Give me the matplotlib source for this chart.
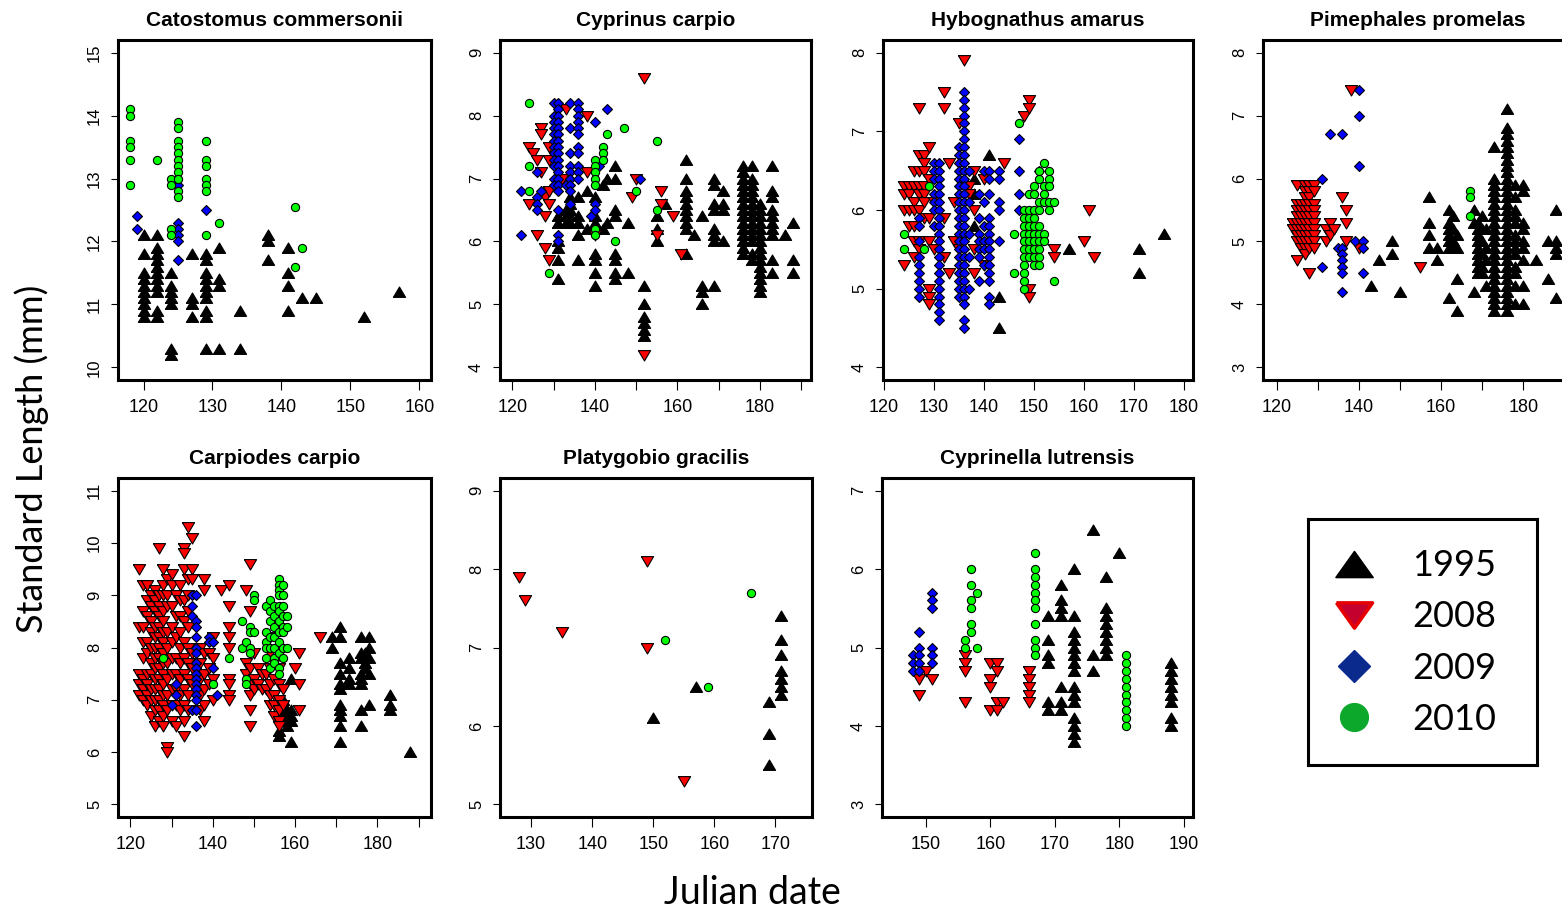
import matplotlib
matplotlib.use('Agg')
import matplotlib.pyplot as plt
from matplotlib.lines import Line2D
from matplotlib.path import Path

# ---- data: {julian day: [standard lengths]} per species and year ----
cat_1995 = {120: [12.1, 11.8, 11.5, 11.4, 11.3, 11.2, 11.1, 11.0, 10.9, 10.8],
            122: [12.1, 11.9, 11.8, 11.7, 11.6, 11.5, 11.4, 11.3, 11.2, 10.9, 10.8],
            124: [11.5, 11.3, 11.2, 11.1, 11.0, 10.3, 10.2],
            127: [11.8, 11.1, 11.0, 10.8],
            129: [11.8, 11.7, 11.5, 11.4, 11.3, 11.2, 11.1, 10.9, 10.8, 10.3],
            131: [11.9, 11.4, 11.3, 10.3],
            134: [10.9, 10.3],
            138: [12.1, 12.0, 11.7],
            141: [11.9, 11.5, 11.3, 10.9],
            143: [11.1], 145: [11.1], 152: [10.8], 157: [11.2]}
cat_2008 = {}
cat_2009 = {119: [12.4, 12.2], 125: [12.9, 12.3, 12.2, 12.1, 12.0, 11.7], 129: [12.5]}
cat_2010 = {118: [14.1, 14.0, 13.6, 13.5, 13.3, 12.9], 122: [13.3],
            124: [13.0, 12.9, 12.2, 12.1],
            125: [13.9, 13.8, 13.6, 13.5, 13.4, 13.3, 13.2, 13.1, 13.0, 12.8, 12.7],
            129: [13.6, 13.3, 13.2, 13.0, 12.9, 12.8, 12.1],
            131: [12.3], 142: [12.55, 11.6], 143: [11.9]}

cyp_1995 = {131: [6.4, 6.3, 6.0, 5.9, 5.7, 5.4], 133: [6.5, 6.4, 6.3],
            134: [6.7, 6.6, 6.5, 6.4, 6.3], 136: [6.7, 6.4, 6.3, 6.1, 5.7],
            138: [6.8, 6.2], 140: [6.7, 6.4, 6.3, 6.2, 5.8, 5.7, 5.5, 5.3],
            142: [6.9, 6.2], 143: [7.0, 6.3],
            145: [7.2, 7.0, 6.5, 6.4, 5.8, 5.7, 5.5, 5.4], 148: [6.3, 5.5],
            152: [5.3, 5.0, 4.8, 4.7, 4.6, 4.5], 155: [6.4, 6.2, 6.0], 157: [6.6],
            162: [7.3, 7.0, 6.8, 6.7, 6.6, 6.5, 6.4, 6.3, 6.2, 5.8], 164: [6.1],
            166: [6.4, 5.3, 5.2, 5.0],
            169: [7.0, 6.9, 6.6, 6.5, 6.2, 6.1, 6.0, 5.3], 171: [6.8, 6.6, 6.5, 6.0],
            176: [7.2, 7.1, 7.0, 6.9, 6.8, 6.7, 6.6, 6.5, 6.4, 6.3, 6.2, 6.1, 6.0, 5.9, 5.8],
            178: [7.2, 7.0, 6.9, 6.8, 6.7, 6.6, 6.5, 6.4, 6.3, 6.2, 6.1, 6.0, 5.8, 5.7],
            180: [6.6, 6.5, 6.4, 6.3, 6.2, 6.1, 6.0, 5.9, 5.8, 5.7, 5.6, 5.5, 5.4, 5.3, 5.2],
            183: [7.2, 6.8, 6.7, 6.5, 6.4, 6.3, 6.2, 6.1, 5.7, 5.5],
            186: [6.1], 188: [6.3, 5.7, 5.5]}
cyp_2008 = {124: [7.5, 6.6], 125: [7.4], 126: [7.3, 6.1], 127: [7.8, 7.7, 7.1],
            128: [6.7, 6.4, 5.9], 129: [7.5, 7.3, 6.8, 6.6, 5.7], 132: [7.0], 133: [8.1],
            138: [8.0, 7.1], 140: [6.1], 149: [6.7], 150: [7.0], 152: [8.6, 4.2],
            155: [6.1], 156: [6.8, 6.6], 159: [6.4], 161: [5.8]}
cyp_2009 = {122: [6.8, 6.1], 126: [7.1, 6.7, 6.6, 6.5], 127: [6.8],
            130: [8.2, 8.0, 7.9, 7.8, 7.7, 7.6, 7.5, 7.4, 7.3, 7.2, 7.0, 6.9],
            131: [8.2, 8.1, 8.0, 7.9, 7.8, 7.7, 7.6, 7.5, 7.4, 7.3, 7.2, 7.1, 7.0, 6.9,
                  6.8, 6.5, 6.1, 6.0],
            133: [6.9], 134: [8.2, 7.8, 7.4, 7.2, 7.1, 7.0, 6.9, 6.8, 6.6],
            136: [8.2, 8.1, 8.0, 7.9, 7.8, 7.7, 7.5, 7.4, 7.2, 7.1, 7.0],
            139: [6.4], 140: [7.9, 6.6, 6.5], 141: [7.2], 143: [8.1], 151: [7.0]}
cyp_2010 = {124: [8.2, 7.2, 6.8], 129: [5.5], 140: [7.3, 7.2, 7.1, 7.0, 6.9, 6.2, 6.1],
            142: [7.5, 7.4, 7.3], 143: [7.7], 145: [6.0], 147: [7.8], 150: [6.8],
            155: [7.6, 6.5]}

hyb_1995 = {138: [6.4, 6.2, 5.8], 141: [6.7], 143: [4.9, 4.5], 157: [5.5],
            171: [5.5, 5.2], 176: [5.7]}
hyb_2008 = {124: [6.3, 6.2, 6.0, 5.3], 125: [6.3, 6.2, 6.0, 5.8],
            126: [6.5, 6.3, 6.1, 6.0, 5.8, 5.6, 5.4],
            127: [7.3, 6.7, 6.5, 6.3, 6.2, 6.0, 5.6, 5.5],
            128: [6.7, 6.6, 6.5, 6.3, 6.2, 6.1, 5.9],
            129: [6.8, 6.4, 5.9, 5.6, 5.0, 4.9, 4.8], 130: [6.1, 5.5],
            132: [7.5, 7.3, 5.9, 5.4], 133: [6.6, 5.2], 134: [6.1, 5.6], 135: [7.1, 5.5],
            136: [7.9], 137: [6.3, 6.2], 138: [6.5, 6.0, 5.5, 5.2], 140: [6.4, 5.3],
            144: [6.6], 148: [7.2], 149: [7.4, 7.3, 5.0, 4.9], 154: [5.5, 5.4],
            160: [5.6], 161: [6.0], 162: [5.4]}
hyb_2009 = {127: [5.9, 5.8, 5.6, 5.4, 5.3, 5.2, 5.1, 5.0, 4.9],
            130: [6.6, 6.5, 6.4, 6.2, 6.1, 6.0, 5.8],
            131: [6.6, 6.5, 6.4, 6.3, 6.2, 6.1, 6.0, 5.9, 5.8, 5.7, 5.6, 5.5, 5.4, 5.3,
                  5.2, 5.1, 5.0, 4.9, 4.8, 4.7, 4.6],
            135: [6.8, 6.7, 6.6, 6.5, 6.4, 6.3, 6.2, 6.1, 6.0, 5.9, 5.8, 5.7, 5.6, 5.5,
                  5.4, 5.3, 5.2, 5.1, 5.0, 4.9],
            136: [7.5, 7.4, 7.3, 7.2, 7.1, 7.0, 6.9, 6.8, 6.7, 6.6, 6.5, 6.4, 6.3, 6.2,
                  6.1, 6.0, 5.9, 5.8, 5.7, 5.6, 5.5, 5.4, 5.3, 5.2, 5.1, 5.0, 4.9, 4.8,
                  4.6, 4.5],
            137: [6.5, 6.1, 5.7, 5.4, 5.0], 139: [6.2, 5.9, 5.7, 5.6, 5.5, 5.4, 5.1],
            140: [6.5, 6.1, 5.8, 5.6, 5.5, 5.3],
            141: [6.5, 6.4, 6.2, 5.9, 5.8, 5.7, 5.6, 5.5, 5.4, 5.3, 5.2, 5.1, 4.9, 4.8],
            143: [6.5, 6.4, 6.1, 6.0, 5.6], 147: [6.9, 6.5, 6.2, 6.0], 151: [6.5]}
hyb_2010 = {124: [5.7, 5.5], 128: [5.5], 129: [6.3], 146: [5.7, 5.2], 147: [7.1],
            148: [6.0, 5.9, 5.8, 5.7, 5.6, 5.5, 5.4, 5.3, 5.2, 5.1, 5.0],
            149: [6.2, 6.0, 5.9, 5.8, 5.7, 5.6, 5.5, 5.4],
            150: [6.3, 6.2, 6.0, 5.9, 5.8, 5.7, 5.6, 5.5, 5.4, 5.3],
            151: [6.5, 6.4, 6.1, 6.0, 5.8, 5.7, 5.6, 5.5, 5.4, 5.3],
            152: [6.6, 6.3, 6.2, 6.1, 5.7, 5.6], 153: [6.5, 6.4, 6.3, 6.1, 6.0],
            154: [6.1, 5.1]}

pim_1995 = {143: [4.3], 145: [4.7], 148: [5.0, 4.8], 150: [4.2],
            157: [5.7, 5.3, 5.1, 4.9], 159: [4.9, 4.7],
            162: [5.5, 5.3, 5.2, 5.1, 5.0, 4.9, 4.1], 163: [5.4, 5.2, 5.0, 4.9],
            164: [5.1, 4.9, 4.4, 3.9], 168: [5.5, 5.3, 4.2],
            169: [5.3, 5.2, 5.1, 5.0, 4.9, 4.8, 4.7, 4.6, 4.5],
            170: [5.4, 5.2, 5.0, 4.8, 4.6, 4.5], 171: [5.2, 4.9, 4.7, 4.3],
            173: [6.5, 6.0, 5.9, 5.8, 5.7, 5.6, 5.5, 5.4, 5.3, 5.2, 5.1, 5.0, 4.9, 4.8,
                  4.7, 4.6, 4.5, 4.4, 4.3, 4.2, 4.1, 4.0, 3.9],
            176: [7.1, 6.8, 6.7, 6.6, 6.5, 6.4, 6.3, 6.2, 6.1, 6.0, 5.9, 5.8, 5.7, 5.6,
                  5.5, 5.4, 5.3, 5.2, 5.1, 5.0, 4.9, 4.8, 4.7, 4.6, 4.5, 4.4, 4.3, 4.2,
                  4.1, 4.0, 3.9],
            178: [5.9, 5.7, 5.5, 5.4, 5.3, 5.1, 5.0, 4.9, 4.8, 4.6, 4.5, 4.3, 4.0],
            180: [5.9, 5.8, 5.3, 5.2, 5.0, 4.9, 4.7, 4.3, 4.0],
            183: [4.7], 186: [5.0, 4.4], 188: [5.5, 5.0, 4.9, 4.8, 4.1]}
pim_2008 = {124: [5.3, 5.2], 125: [5.9, 5.6, 5.5, 5.4, 5.3, 5.2, 5.1, 5.0, 4.7],
            126: [5.6, 5.5, 5.4, 5.3, 5.2, 5.1, 5.0, 4.9],
            127: [5.9, 5.8, 5.7, 5.6, 5.5, 5.4, 5.3, 5.2, 5.1, 5.0, 4.9, 4.8],
            128: [5.9, 5.8, 5.7, 5.6, 5.5, 5.4, 5.3, 5.2, 5.1, 5.0, 4.9, 4.5],
            129: [5.9, 5.8, 5.6, 5.5, 5.4, 5.3, 5.2, 5.1, 5.0, 4.9],
            132: [5.2, 5.0], 133: [5.3, 5.1], 134: [5.2], 136: [5.7],
            137: [5.5, 5.3, 5.0], 138: [7.4], 140: [4.9], 155: [4.6]}
pim_2009 = {131: [6.0, 4.6], 133: [6.7], 135: [4.9],
            136: [6.7, 4.9, 4.8, 4.7, 4.6, 4.5, 4.2], 139: [5.0], 140: [7.4, 7.0, 6.2],
            141: [5.0, 4.9, 4.5]}
pim_2010 = {167: [5.8, 5.7, 5.4]}

car_1995 = {156: [6.7, 6.4, 6.3], 157: [7.0, 6.8], 158: [6.8, 6.7, 6.6, 6.5],
            159: [7.4, 6.8, 6.7, 6.6, 6.2], 169: [8.2, 8.0],
            171: [8.4, 8.2, 7.7, 7.5, 7.3, 7.2, 6.9, 6.8, 6.7, 6.5, 6.2],
            173: [7.8, 7.6, 7.4, 7.3], 176: [8.2, 7.9, 7.8, 7.5, 7.4, 7.3, 6.8, 6.5],
            177: [7.9, 7.7, 7.6], 178: [8.2, 8.0, 7.8, 7.5, 6.9], 183: [7.1, 6.9, 6.8],
            188: [6.0]}
car_2008 = {122: [9.5, 8.4, 7.5, 7.3, 7.1],
            123: [9.2, 8.7, 8.4, 8.1, 7.8, 7.4, 7.2, 7.0],
            124: [9.2, 8.9, 8.6, 8.1, 7.9, 7.5, 7.3, 7.1, 6.9],
            125: [9.0, 8.8, 8.5, 8.3, 8.0, 7.7, 7.5, 7.2, 7.0, 6.7],
            126: [9.1, 8.9, 8.7, 8.4, 8.2, 8.0, 7.8, 7.6, 7.4, 7.2, 7.0, 6.8, 6.5],
            127: [9.9, 9.0, 8.8, 8.6, 8.4, 8.2, 8.0, 7.8, 7.6, 7.4, 7.2, 7.0, 6.8, 6.6],
            128: [9.5, 9.2, 9.0, 8.7, 8.5, 8.3, 8.1, 7.9, 7.7, 7.5, 7.3, 7.1, 6.9, 6.7, 6.5],
            129: [9.3, 9.0, 8.8, 8.3, 8.0, 7.7, 7.4, 7.1, 6.8, 6.1, 6.0],
            130: [9.4, 9.2, 8.8, 8.4, 8.1, 7.8, 7.5, 7.2, 6.9, 6.6],
            131: [9.0, 8.6, 8.2, 7.8, 7.5, 7.2, 6.9, 6.5],
            132: [9.2, 8.9, 8.6, 8.3, 8.0, 7.7, 7.4, 7.1, 6.8],
            133: [9.9, 9.8, 9.5, 8.9, 8.5, 8.1, 7.8, 7.5, 7.2, 6.9, 6.6, 6.3],
            134: [10.3, 9.3, 9.0, 8.7, 8.4, 8.0, 7.7, 7.4, 7.1, 6.8],
            135: [10.1, 9.5, 9.3, 7.9, 7.6, 7.3], 137: [8.0, 7.7, 7.4, 7.1, 6.8],
            138: [9.3, 9.1, 7.9, 7.5, 7.2, 6.9, 6.6], 139: [7.9, 7.6, 7.3],
            140: [8.2, 7.8, 7.4, 7.0], 142: [9.1],
            144: [9.2, 8.8, 8.4, 8.2, 8.0, 7.4, 7.3, 7.1, 7.0], 148: [9.1, 7.7, 7.5],
            149: [9.6, 8.7, 7.6, 7.3, 7.1, 6.8, 6.5], 150: [7.9, 7.4, 7.2],
            151: [7.6, 7.3], 152: [7.5, 7.2], 153: [7.5, 7.2],
            154: [8.2, 7.9, 7.6, 7.3, 7.1, 6.9], 155: [7.7, 7.4, 7.1, 6.9, 6.7],
            156: [7.6, 7.3, 7.0, 6.8, 6.6, 6.5], 157: [7.2, 6.9], 160: [7.6],
            161: [7.9, 7.3, 6.8], 166: [8.2]}
car_2009 = {130: [6.9], 131: [7.3, 7.1], 135: [9.0, 8.8, 8.6, 6.8],
            136: [9.0, 8.5, 8.4, 8.2, 8.0, 7.9, 7.7, 7.6, 7.5, 7.4, 7.3, 7.2, 7.1, 7.0,
                  6.8, 6.5],
            139: [8.2, 8.1], 140: [8.1, 7.6], 141: [7.1]}
car_2010 = {128: [7.8], 140: [7.3], 144: [7.8], 147: [8.5, 8.0], 148: [8.1, 7.4, 7.3],
            149: [8.4, 8.3, 8.0, 7.9], 150: [9.0, 8.9, 8.3],
            153: [8.8, 8.3, 8.1, 8.0, 7.8], 154: [8.9, 8.7, 8.5, 8.2, 8.0, 7.6],
            155: [8.8, 8.6, 8.4, 8.2, 8.0, 7.8, 7.7],
            156: [9.3, 9.2, 9.1, 9.0, 8.8, 8.7, 8.5, 8.3, 8.1, 7.9, 7.6, 7.5],
            157: [9.2, 9.0, 8.8, 8.6, 8.4, 8.3, 8.0, 7.8], 158: [8.6, 8.4, 8.0]}

pla_1995 = {150: [6.1], 157: [6.5], 169: [6.3, 5.9, 5.5],
            171: [7.4, 7.1, 6.9, 6.7, 6.6, 6.5, 6.4]}
pla_2008 = {128: [7.9], 129: [7.6], 135: [7.2], 149: [8.1, 7.0], 155: [5.3]}
pla_2009 = {}
pla_2010 = {152: [7.1], 159: [6.5], 166: [7.7]}

cyl_1995 = {169: [5.4, 5.1, 4.9, 4.8, 4.3, 4.2], 171: [5.8, 5.6, 5.5, 5.4, 4.5, 4.3, 4.2],
            173: [6.0, 5.4, 5.2, 5.1, 5.0, 4.9, 4.8, 4.7, 4.5, 4.4, 4.3, 4.1, 4.0, 3.9, 3.8],
            176: [6.5, 4.9, 4.7], 178: [5.9, 5.5, 5.4, 5.3, 5.2, 5.1, 5.0, 4.9],
            180: [6.2], 188: [4.8, 4.7, 4.6, 4.5, 4.4, 4.3, 4.1, 4.0]}
cyl_2008 = {149: [4.6, 4.4], 150: [4.7], 151: [4.6], 156: [4.9, 4.8, 4.7, 4.3],
            160: [4.8, 4.6, 4.5, 4.2], 161: [4.8, 4.7, 4.3, 4.2], 162: [4.3],
            166: [4.7, 4.6, 4.5, 4.4, 4.3]}
cyl_2009 = {148: [4.9, 4.8, 4.7], 149: [5.2, 5.0, 4.9, 4.8, 4.7],
            151: [5.7, 5.6, 5.5, 5.0, 4.9, 4.8]}
cyl_2010 = {156: [5.1, 5.0], 157: [6.0, 5.8, 5.6, 5.5, 5.3, 5.2], 158: [5.7, 5.0],
            167: [6.2, 6.0, 5.9, 5.8, 5.7, 5.6, 5.5, 5.3, 5.1, 5.0, 4.9],
            181: [4.9, 4.8, 4.7, 4.6, 4.5, 4.4, 4.3, 4.2, 4.1, 4.0]}

species = ['Catostomus commersonii', 'Cyprinus carpio', 'Hybognathus amarus',
           'Pimephales promelas', 'Carpiodes carpio', 'Platygobio gracilis',
           'Cyprinella lutrensis']
years = ['1995', '2008', '2009', '2010']
data = [[cat_1995, cat_2008, cat_2009, cat_2010],
        [cyp_1995, cyp_2008, cyp_2009, cyp_2010],
        [hyb_1995, hyb_2008, hyb_2009, hyb_2010],
        [pim_1995, pim_2008, pim_2009, pim_2010],
        [car_1995, car_2008, car_2009, car_2010],
        [pla_1995, pla_2008, pla_2009, pla_2010],
        [cyl_1995, cyl_2008, cyl_2009, cyl_2010]]

# ---- layout / styling ----
W, H = 1562, 910
boxes = [(118, 40, 431, 380), (500, 40, 811, 380), (883, 40, 1193, 380),
         (1263, 40, 1573, 380), (118, 478, 431, 817), (500, 478, 812, 817),
         (882, 478, 1193, 817)]
xlims = [(116.3, 161.7), (117.0, 192.4), (119.8, 181.9), (116.7, 192.1),
         (117.0, 193.0), (124.9, 176.0), (143.2, 191.45)]
ylims = [(9.8, 15.2), (3.8, 9.2), (3.84, 8.16), (2.8, 8.2),
         (4.76, 11.24), (4.84, 9.16), (2.84, 7.16)]
xticks = [range(120, 161, 10), range(120, 191, 10), range(120, 181, 10),
          range(120, 191, 10), range(120, 191, 10), range(130, 171, 10),
          range(150, 191, 10)]
xlab_step = [10, 20, 10, 20, 20, 10, 10]

tri_up = Path([(-1, -0.8), (1, -0.8), (0, 0.9), (-1, -0.8)])
tri_dn = Path([(-1, 0.8), (1, 0.8), (0, -0.9), (-1, 0.8)])
styles = [dict(marker=tri_up, ms=8.8, mfc='black'),
          dict(marker=tri_dn, ms=8.8, mfc='#ff0000'),
          dict(marker='D', ms=5.6, mfc='#0000ff'),
          dict(marker='o', ms=5.9, mfc='#00ff00')]

fig = plt.figure(figsize=(W / 100, H / 100), dpi=100)

for i, name in enumerate(species):
    x0, y0, x1, y1 = boxes[i]
    ax = fig.add_axes([x0 / W, 1 - y1 / H, (x1 - x0) / W, (y1 - y0) / H])
    for d, st in zip(data[i], styles):
        xs = [k for k, v in d.items() for _ in v]
        ys = [y for v in d.values() for y in v]
        ax.plot(xs, ys, linestyle='none', mec='black', mew=0.8, **st)
    ax.set_xlim(xlims[i])
    ax.set_ylim(ylims[i])
    xt = list(xticks[i])
    ax.set_xticks(xt)
    ax.set_xticklabels([str(t) if (t - xt[0]) % xlab_step[i] == 0 else '' for t in xt])
    lo, hi = ylims[i]
    yt = list(range(int(lo) + 1, int(hi) + 1))
    ax.set_yticks(yt)
    ax.set_yticklabels([str(t) for t in yt], rotation=90, va='center')
    for lab in ax.get_xticklabels() + ax.get_yticklabels():
        lab.set_family('Liberation Sans')
    ax.tick_params(axis='x', length=7.5, width=0.8, pad=6, labelsize=13)
    ax.tick_params(axis='y', length=5, width=0.8, pad=6.5, labelsize=12)
    for sp in ax.spines.values():
        sp.set_linewidth(2.2)
    ax.set_title(name, fontsize=15, fontweight='bold', family='Liberation Sans', pad=10)

fig.text(32 / W, 1 - 459 / H, 'Standard Length (mm)', rotation=90, ha='center',
         va='center', fontsize=26, family='Lato')
fig.text(752 / W, 1 - 893 / H, 'Julian date', ha='center', va='center',
         fontsize=27, family='Lato')

# legend box
lax = fig.add_axes([1308 / W, 1 - 765 / H, 229 / W, 246 / H])
lax.set_xticks([])
lax.set_yticks([])
for sp in lax.spines.values():
    sp.set_linewidth(2.2)
leg_tri_up = Path([(-1, -0.7), (1, -0.7), (0, 0.7), (-1, -0.7)])
leg_tri_dn = Path([(-1, 0.7), (1, 0.7), (0, -0.7), (-1, 0.7)])
handles = [Line2D([], [], linestyle='none', marker=leg_tri_up, ms=27, mfc='black', mec='black'),
           Line2D([], [], linestyle='none', marker=leg_tri_dn, ms=26, mfc='#c4002f',
                  mec='#e60000', mew=2.5),
           Line2D([], [], linestyle='none', marker='D', ms=16.5, mfc='#0a2a8e', mec='#0a2a8e'),
           Line2D([], [], linestyle='none', marker='o', ms=20, mfc='#0ba82b', mec='#0ba82b')]
lax.legend(handles, years, loc='center left', bbox_to_anchor=(0.012, 0.498),
           frameon=False, borderpad=0, handlelength=1.4, handletextpad=0.9,
           labelspacing=0.5, prop={'family': 'Lato', 'size': 26})

fig.savefig('out.png', dpi=100)
